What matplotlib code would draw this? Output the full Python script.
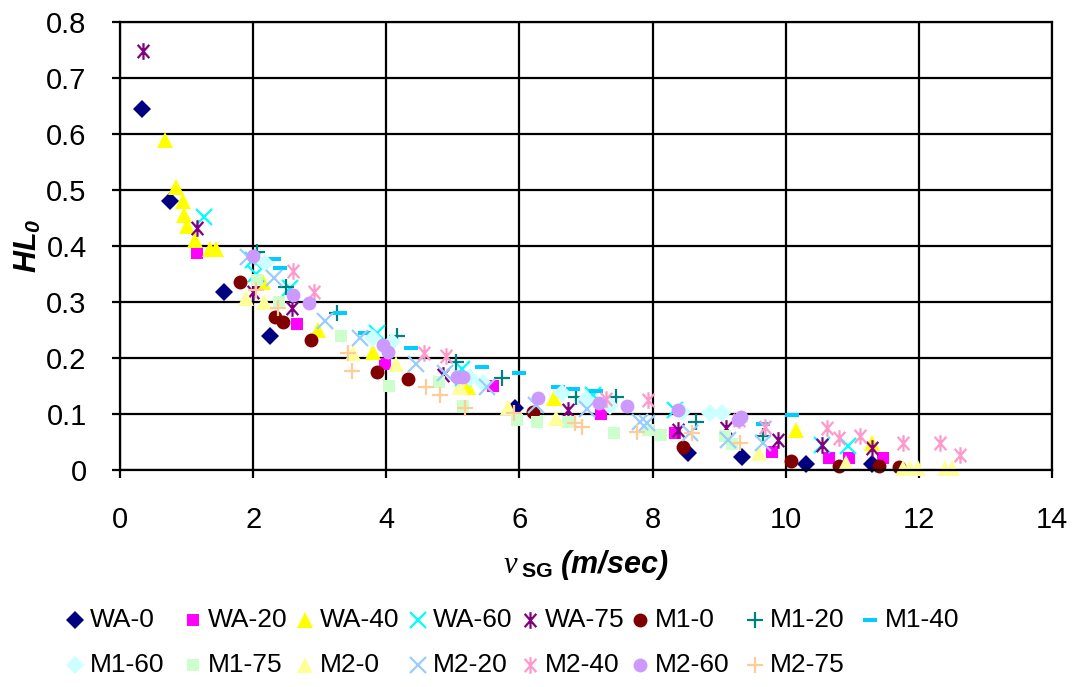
import numpy as np
import matplotlib
matplotlib.use("Agg")
import matplotlib.pyplot as plt
from matplotlib.path import Path
from matplotlib.lines import Line2D

plt.rcParams['font.family'] = ['Liberation Sans Narrow', 'Liberation Sans', 'DejaVu Sans']
plt.rcParams['mathtext.fontset'] = 'custom'
plt.rcParams['mathtext.rm'] = 'Liberation Serif'
plt.rcParams['mathtext.it'] = 'Liberation Serif:italic'
plt.rcParams['mathtext.bf'] = 'Liberation Sans:bold'
plt.rcParams['mathtext.bfit'] = 'Liberation Sans:italic:bold'

# ---- data: (v_SG, HL0) per series ----
wa0_x = [0.33, 0.75, 1.56, 2.25, 5.93, 8.53, 9.34, 10.3, 11.3]
wa0_y = [0.645, 0.48, 0.318, 0.24, 0.11, 0.03, 0.023, 0.01, 0.01]

wa20_x = [1.15, 2.66, 3.98, 5.6, 7.22, 8.34, 9.8, 10.65, 10.95, 11.46]
wa20_y = [0.387, 0.26, 0.19, 0.15, 0.10, 0.066, 0.033, 0.022, 0.022, 0.022]

wa40_x = [0.68, 0.84, 0.95, 0.96, 1.0, 1.13, 1.35, 1.44, 2.15, 2.97, 3.8, 5.1, 5.22, 6.52, 10.15, 11.3]
wa40_y = [0.59, 0.505, 0.48, 0.455, 0.435, 0.41, 0.395, 0.395, 0.335, 0.25, 0.21, 0.148, 0.148, 0.128, 0.072, 0.048]

wa60_x = [1.26, 2.0, 2.05, 2.55, 3.86, 5.13, 5.15, 7.1, 8.34, 10.55, 10.94]
wa60_y = [0.452, 0.375, 0.35, 0.325, 0.245, 0.18, 0.165, 0.134, 0.107, 0.045, 0.043]

wa75_x = [0.35, 1.16, 2.0, 2.58, 4.85, 6.73, 8.38, 9.1, 9.88, 10.55, 11.3]
wa75_y = [0.748, 0.432, 0.318, 0.29, 0.17, 0.107, 0.071, 0.075, 0.054, 0.045, 0.04]

m10_x = [1.8, 2.33, 2.45, 2.87, 3.86, 4.33, 6.2, 8.46, 10.08, 10.8, 11.4, 11.7]
m10_y = [0.335, 0.273, 0.264, 0.232, 0.175, 0.162, 0.104, 0.041, 0.016, 0.008, 0.008, 0.006]

m120_x = [2.06, 2.5, 3.26, 4.16, 5.05, 5.74, 6.85, 7.45, 8.65, 9.66]
m120_y = [0.39, 0.327, 0.28, 0.24, 0.193, 0.164, 0.13, 0.13, 0.086, 0.06]

m140_x = [2.31, 2.4, 3.3, 3.68, 4.37, 5.44, 6.0, 6.58, 6.8, 7.15, 9.66, 10.1]
m140_y = [0.377, 0.36, 0.28, 0.245, 0.218, 0.184, 0.173, 0.148, 0.145, 0.141, 0.082, 0.098]

m160_x = [2.18, 3.8, 4.08, 5.26, 5.45, 6.64, 7.0, 7.36, 8.44, 8.86, 9.04]
m160_y = [0.37, 0.236, 0.229, 0.164, 0.155, 0.137, 0.127, 0.114, 0.104, 0.102, 0.102]

m175_x = [2.06, 2.39, 3.32, 4.04, 4.79, 5.15, 5.96, 6.26, 6.73, 7.42, 7.93, 8.13, 9.09, 9.2]
m175_y = [0.34, 0.30, 0.24, 0.15, 0.157, 0.114, 0.089, 0.086, 0.086, 0.066, 0.071, 0.063, 0.06, 0.046]

m20_x = [1.9, 2.17, 3.5, 4.15, 5.1, 5.83, 6.55, 9.6, 10.9, 11.76, 11.87, 11.99, 12.4, 12.5]
m20_y = [0.307, 0.30, 0.209, 0.19, 0.148, 0.112, 0.093, 0.03, 0.012, 0.004, 0.004, 0.004, 0.004, 0.004]

m220_x = [1.92, 2.31, 3.08, 3.6, 4.45, 4.88, 5.51, 6.25, 7.02, 7.81, 7.92, 8.56, 9.13, 9.66]
m220_y = [0.38, 0.342, 0.266, 0.235, 0.19, 0.173, 0.148, 0.116, 0.109, 0.086, 0.084, 0.066, 0.054, 0.048]

m240_x = [2.6, 2.91, 4.57, 4.9, 7.3, 7.93, 9.3, 9.69, 10.62, 10.8, 11.12, 11.76, 12.32, 12.62]
m240_y = [0.355, 0.318, 0.209, 0.203, 0.127, 0.125, 0.09, 0.077, 0.075, 0.057, 0.061, 0.049, 0.049, 0.027]

m260_x = [2.0, 2.6, 2.84, 3.95, 4.03, 5.06, 5.15, 6.28, 7.2, 7.62, 8.38, 9.28, 9.33]
m260_y = [0.382, 0.313, 0.298, 0.223, 0.211, 0.166, 0.166, 0.128, 0.12, 0.114, 0.107, 0.09, 0.094]

m275_x = [2.04, 2.37, 3.42, 3.48, 4.6, 4.81, 5.18, 5.92, 6.83, 6.94, 7.77, 8.59, 9.31]
m275_y = [0.321, 0.29, 0.209, 0.177, 0.148, 0.134, 0.11, 0.102, 0.084, 0.077, 0.068, 0.066, 0.048]

labels = ['WA-0', 'WA-20', 'WA-40', 'WA-60', 'WA-75', 'M1-0', 'M1-20', 'M1-40',
          'M1-60', 'M1-75', 'M2-0', 'M2-20', 'M2-40', 'M2-60', 'M2-75']
xs = [wa0_x, wa20_x, wa40_x, wa60_x, wa75_x, m10_x, m120_x, m140_x,
      m160_x, m175_x, m20_x, m220_x, m240_x, m260_x, m275_x]
ys = [wa0_y, wa20_y, wa40_y, wa60_y, wa75_y, m10_y, m120_y, m140_y,
      m160_y, m175_y, m20_y, m220_y, m240_y, m260_y, m275_y]

# excel-ish markers
star = Path([(0, -1), (0, 1), (-0.7, -0.8), (0.7, 0.8), (-0.7, 0.8), (0.7, -0.8)],
            [Path.MOVETO, Path.LINETO, Path.MOVETO, Path.LINETO, Path.MOVETO, Path.LINETO])
dash = Path([(-1, -0.3), (1, -0.3), (1, 0.3), (-1, 0.3), (-1, -0.3)],
            [Path.MOVETO, Path.LINETO, Path.LINETO, Path.LINETO, Path.CLOSEPOLY])

colors = ['#000080', '#FF00FF', '#FFFF00', '#00FFFF', '#800080', '#800000', '#008080', '#00CCFF',
          '#CCFFFF', '#CCFFCC', '#FFFF99', '#99CCFF', '#FF99CC', '#CC99FF', '#FFCC99']
markers = ['D', 's', '^', 'x', star, 'o', '+', dash,
           'D', 's', '^', 'x', star, 'o', '+']
sizes = {'D': 9, 's': 9, '^': 11, 'x': 11, 'o': 10, '+': 12}


def mstyle(m, c):
    if m is star:
        return dict(marker=m, ms=12, mew=1.6, mec=c, mfc='none')
    if m is dash:
        return dict(marker=m, ms=10, mew=0, mfc=c, mec=c)
    if m in ('x', '+'):
        return dict(marker=m, ms=sizes[m], mew=1.6, color=c)
    return dict(marker=m, ms=sizes[m], mew=0, color=c)


W, H = 1078, 687
fig = plt.figure(figsize=(W / 100, H / 100), dpi=100)
ax = fig.add_axes([120 / W, 1 - 470 / H, 932 / W, 448 / H])

for x, y, lab, c, m in zip(xs, ys, labels, colors, markers):
    ax.plot(x, y, ls='none', label=lab, clip_on=False, **mstyle(m, c))

ax.set_xlim(0, 14)
ax.set_ylim(0, 0.8)
ax.set_xticks(np.arange(0, 15, 2))
ax.set_yticks(np.arange(0, 0.81, 0.1))
ax.set_yticklabels(['0'] + ['%.1f' % v for v in np.arange(0.1, 0.81, 0.1)])
ax.grid(True, color='black', lw=1.6)
ax.set_axisbelow(True)
for s in ax.spines.values():
    s.set_linewidth(1.6)
ax.tick_params(direction='out', length=6, width=1.6, labelsize=21)
ax.tick_params(axis='x', pad=20)
ax.tick_params(axis='y', pad=18)

ax.set_xlabel(r'$\mathit{v}_{\ \mathbf{SG}}\ \mathbfit{(m/sec)}$', fontsize=22, labelpad=10)
ax.set_ylabel(r'$\mathbfit{HL}_{\mathbfit{0}}$', fontsize=22, labelpad=2)

# legend drawn like excel: two rows, fixed column pitch
col_x = [75, 193, 305, 418, 530, 640, 755, 870]
row_y = [620, 665]
for i, (lab, c, m) in enumerate(zip(labels, colors, markers)):
    r, k = divmod(i, 8)
    px, py = col_x[k], row_y[r]
    fig.add_artist(Line2D([px / W], [1 - py / H], transform=fig.transFigure, ls='none', **mstyle(m, c)))
    fig.text((px + 15) / W, 1 - py / H, lab, fontsize=19, va='center', ha='left')

fig.savefig('out.png', dpi=100)
